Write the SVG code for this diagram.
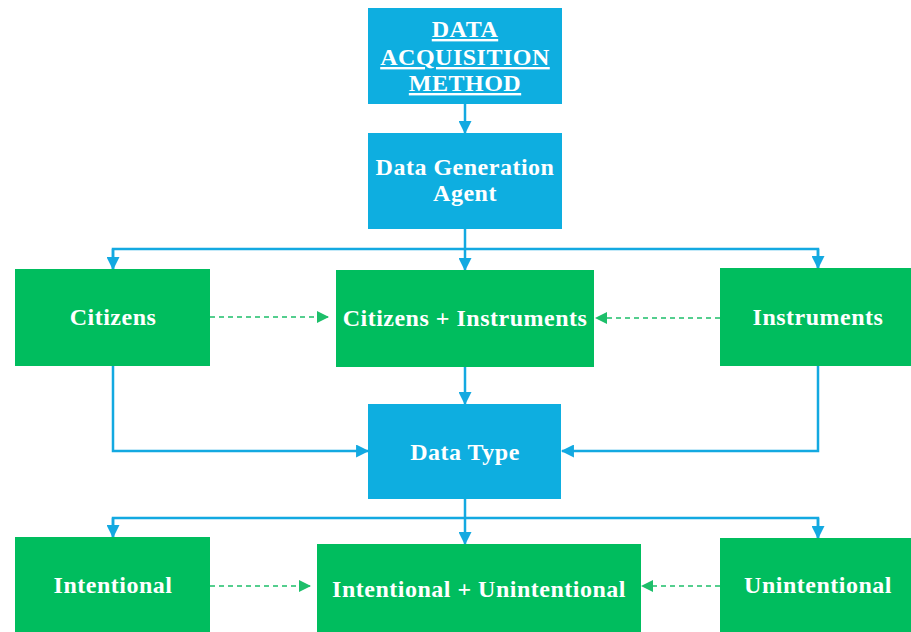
<svg xmlns="http://www.w3.org/2000/svg" width="911" height="632" viewBox="0 0 911 632">
<defs>
<style>
.blue{fill:#0EAEE0}
.green{fill:#00BD5E}
.t{font-family:"Liberation Serif","Times New Roman",serif;font-weight:bold;font-size:24px;fill:#ffffff;text-anchor:middle;letter-spacing:0.5px}
.c{fill:none;stroke:#13A9E1;stroke-width:2.5}
.d{fill:none;stroke:#1DBF6A;stroke-width:1.5;stroke-dasharray:5,4}
</style>
<marker id="ab" viewBox="0 0 12 12" refX="11" refY="6" markerWidth="13" markerHeight="13" markerUnits="userSpaceOnUse" orient="auto">
<path d="M0,0 L12,6 L0,12 Z" fill="#13A9E1"/>
</marker>
<marker id="ag" viewBox="0 0 12 12" refX="11" refY="6" markerWidth="12" markerHeight="12" markerUnits="userSpaceOnUse" orient="auto">
<path d="M0,0 L12,6 L0,12 Z" fill="#1DBF6A"/>
</marker>
</defs>
<rect width="911" height="632" fill="#ffffff"/>
<g id="connectors">
<line class="c" x1="465" y1="104" x2="465" y2="133" marker-end="url(#ab)"/>
<line class="c" x1="465" y1="229" x2="465" y2="270" marker-end="url(#ab)"/>
<polyline class="c" points="113,269 113,249 818,249 818,268"/>
<line class="c" x1="113" y1="249" x2="113" y2="269" marker-end="url(#ab)"/>
<line class="c" x1="818" y1="249" x2="818" y2="268" marker-end="url(#ab)"/>
<line class="c" x1="465" y1="367" x2="465" y2="404" marker-end="url(#ab)"/>
<polyline class="c" points="113,366 113,451 368,451" marker-end="url(#ab)"/>
<polyline class="c" points="818,366 818,451 562,451" marker-end="url(#ab)"/>
<line class="c" x1="465" y1="499" x2="465" y2="544" marker-end="url(#ab)"/>
<polyline class="c" points="113,537 113,518 818,518 818,538"/>
<line class="c" x1="113" y1="518" x2="113" y2="537" marker-end="url(#ab)"/>
<line class="c" x1="818" y1="518" x2="818" y2="538" marker-end="url(#ab)"/>
<line class="d" x1="210" y1="317" x2="328" y2="317" marker-end="url(#ag)"/>
<line class="d" x1="720" y1="318" x2="596" y2="318" marker-end="url(#ag)"/>
<line class="d" x1="210" y1="586" x2="310" y2="586" marker-end="url(#ag)"/>
<line class="d" x1="720" y1="586" x2="642" y2="586" marker-end="url(#ag)"/>
</g>
<g id="acquisition">
<rect class="blue" x="368" y="8" width="194" height="96"/>
<text class="t" x="465" y="37" text-decoration="underline">DATA</text>
<text class="t" x="465" y="65" text-decoration="underline">ACQUISITION</text>
<text class="t" x="465" y="91" text-decoration="underline">METHOD</text>
</g>
<g id="agent">
<rect class="blue" x="368" y="133" width="194" height="96"/>
<text class="t" x="465" y="175">Data Generation</text>
<text class="t" x="465" y="201">Agent</text>
</g>
<g id="citizens">
<rect class="green" x="15" y="269" width="195" height="97"/>
<text class="t" x="113" y="325">Citizens</text>
</g>
<g id="citizens-instruments">
<rect class="green" x="336" y="270" width="258" height="97"/>
<text class="t" x="465" y="326">Citizens + Instruments</text>
</g>
<g id="instruments">
<rect class="green" x="720" y="268" width="192" height="98"/>
<text class="t" x="818" y="325">Instruments</text>
</g>
<g id="datatype">
<rect class="blue" x="368" y="404" width="193" height="95"/>
<text class="t" x="465" y="460">Data Type</text>
</g>
<g id="intentional">
<rect class="green" x="15" y="537" width="195" height="95"/>
<text class="t" x="113" y="593">Intentional</text>
</g>
<g id="intentional-unintentional">
<rect class="green" x="317" y="544" width="324" height="88"/>
<text class="t" x="479" y="597">Intentional + Unintentional</text>
</g>
<g id="unintentional">
<rect class="green" x="720" y="538" width="192" height="94"/>
<text class="t" x="818" y="593">Unintentional</text>
</g>
</svg>
